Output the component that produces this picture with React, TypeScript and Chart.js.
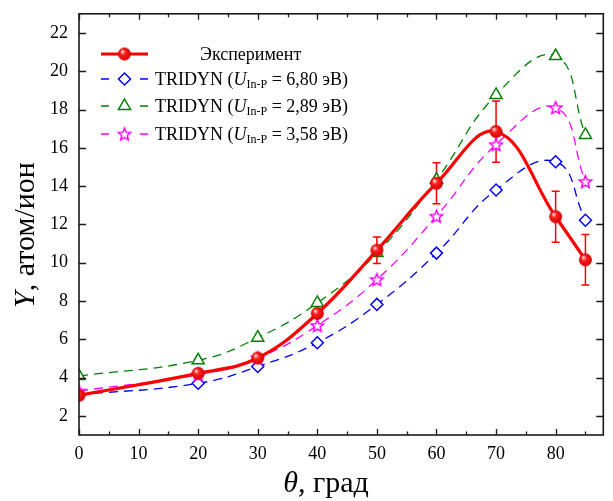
import React, { useEffect, useRef } from "react";
import { Chart, registerables } from "chart.js";

Chart.register(...registerables);

// ---- data ----
const angles = [0, 20, 30, 40, 50, 60, 70, 80, 85];
const experiment = [3.07, 4.22, 5.02, 7.35, 10.65, 14.15, 16.85, 12.4, 10.15];
const experimentErr = [0, 0, 0, 0, 0.69, 1.07, 1.6, 1.33, 1.32];
const tridyn680 = [3.1, 3.7, 4.58, 5.82, 7.82, 10.5, 13.8, 15.27, 12.22];
const tridyn289 = [4.08, 4.9, 6.08, 7.9, 10.5, 14.33, 18.76, 20.79, 16.67];
const tridyn358 = [3.3, 4.15, 5.03, 6.72, 9.12, 12.43, 16.17, 18.1, 14.24];

const xTickValues = [0, 10, 20, 30, 40, 50, 60, 70, 80];
const xMinorValues = [5, 15, 25, 35, 45, 55, 65, 75, 85];
const yTickValues = [2, 4, 6, 8, 10, 12, 14, 16, 18, 20, 22];

const legendLabels = ["Эксперимент", "TRIDYN (", "U", "In-P", " = 6,80 эВ)", " = 2,89 эВ)", " = 3,58 эВ)"];
const xTitle = ["θ", ", град"];
const yTitle = ["Y", ", атом/ион"];

const X_MIN = 0, X_MAX = 88;
const Y_MIN = 1, Y_MAX = 23;

const SERIF = "'Liberation Serif', 'Times New Roman', serif";
const RED = "#ff0000";
const BLUE = "#0000ff";
const GREEN = "#008000";
const MAGENTA = "#ff00ff";

function makeBall(r: number): HTMLCanvasElement {
  const c = document.createElement("canvas");
  const s = Math.ceil(r * 2 + 2);
  c.width = s; c.height = s;
  const g = c.getContext("2d")!;
  const cx = s / 2, cy = s / 2;
  const grad = g.createRadialGradient(cx - r * 0.35, cy - r * 0.4, r * 0.1, cx, cy, r);
  grad.addColorStop(0, "#ffd0d0");
  grad.addColorStop(0.35, "#ff2020");
  grad.addColorStop(1, "#d00000");
  g.fillStyle = grad;
  g.beginPath(); g.arc(cx, cy, r, 0, Math.PI * 2); g.fill();
  return c;
}

function starPath(g: CanvasRenderingContext2D, cx: number, cy: number, ro: number, ri: number) {
  g.beginPath();
  for (let i = 0; i < 10; i++) {
    const a = -Math.PI / 2 + (i * Math.PI) / 5;
    const rr = i % 2 === 0 ? ro : ri;
    const px = cx + Math.cos(a) * rr, py = cy + Math.sin(a) * rr;
    if (i === 0) g.moveTo(px, py); else g.lineTo(px, py);
  }
  g.closePath();
}

function makeStar(ro: number): HTMLCanvasElement {
  const c = document.createElement("canvas");
  const s = Math.ceil(ro * 2 + 4);
  c.width = s; c.height = s;
  const g = c.getContext("2d")!;
  starPath(g, s / 2, s / 2 + 0.6, ro, ro * 0.45);
  g.fillStyle = "#ffffff"; g.fill();
  g.strokeStyle = MAGENTA; g.lineWidth = 1.5; g.stroke();
  return c;
}

function pts(vals: number[]) {
  return angles.map((a, i) => ({ x: a, y: vals[i] }));
}

function drawRich(ctx: CanvasRenderingContext2D, x: number, y: number, parts: { t: string; f: string; dy?: number }[]) {
  let cx = x;
  for (const p of parts) {
    ctx.font = p.f;
    ctx.fillText(p.t, cx, y + (p.dy || 0));
    cx += ctx.measureText(p.t).width;
  }
}

export default function App() {
  const ref = useRef<HTMLCanvasElement | null>(null);

  useEffect(() => {
    const canvas = ref.current!;
    const ball = makeBall(6.5);
    const legendBall = makeBall(6.5);
    const star = makeStar(6.5);

    const decor = {
      id: "decor",
      beforeDatasetsDraw(chart: any) {
        const ctx = chart.ctx as CanvasRenderingContext2D;
        const xs = chart.scales.x, ys = chart.scales.y;
        ctx.save();
        ctx.strokeStyle = RED;
        ctx.lineWidth = 1.5;
        angles.forEach((a, i) => {
          const e = experimentErr[i];
          if (!e) return;
          const px = xs.getPixelForValue(a);
          const y1 = ys.getPixelForValue(experiment[i] + e);
          const y2 = ys.getPixelForValue(experiment[i] - e);
          ctx.beginPath();
          ctx.moveTo(px, y1); ctx.lineTo(px, y2);
          ctx.moveTo(px - 4, y1); ctx.lineTo(px + 4, y1);
          ctx.moveTo(px - 4, y2); ctx.lineTo(px + 4, y2);
          ctx.stroke();
        });
        ctx.restore();
      },
      afterDraw(chart: any) {
        const ctx = chart.ctx as CanvasRenderingContext2D;
        const { left, right, top, bottom } = chart.chartArea;
        const xs = chart.scales.x, ys = chart.scales.y;
        ctx.save();
        // frame
        ctx.strokeStyle = "#1a1a1a";
        ctx.lineWidth = 1.6;
        ctx.strokeRect(left, top, right - left, bottom - top);
        ctx.lineWidth = 1.3;
        ctx.beginPath();
        ys.ticks.forEach((t: any) => {
          const py = Math.round(ys.getPixelForValue(t.value)) + 0.5;
          ctx.moveTo(left, py); ctx.lineTo(left + 7, py);
          ctx.moveTo(right, py); ctx.lineTo(right - 7, py);
        });
        xs.ticks.forEach((t: any) => {
          const px = Math.round(xs.getPixelForValue(t.value)) + 0.5;
          ctx.moveTo(px, bottom); ctx.lineTo(px, bottom - 6);
          ctx.moveTo(px, top); ctx.lineTo(px, top + 6);
        });
        xMinorValues.forEach((mv) => {
          const mx = Math.round(xs.getPixelForValue(mv)) + 0.5;
          ctx.moveTo(mx, bottom); ctx.lineTo(mx, bottom - 3.5);
          ctx.moveTo(mx, top); ctx.lineTo(mx, top + 3.5);
        });
        ctx.stroke();

        // axis titles
        ctx.fillStyle = "#000";
        ctx.textBaseline = "alphabetic";
        ctx.textAlign = "left";
        const big = `30px ${SERIF}`;
        const bigI = `italic 30px ${SERIF}`;
        ctx.font = bigI;
        const w1 = ctx.measureText(xTitle[0]).width;
        ctx.font = big;
        const w2 = ctx.measureText(xTitle[1]).width;
        drawRich(ctx, 326 - (w1 + w2) / 2, 492, [
          { t: xTitle[0], f: bigI },
          { t: xTitle[1], f: big },
        ]);
        ctx.save();
        ctx.translate(34, 235);
        ctx.rotate(-Math.PI / 2);
        ctx.font = bigI;
        const v1 = ctx.measureText(yTitle[0]).width;
        ctx.font = big;
        const v2 = ctx.measureText(yTitle[1]).width;
        drawRich(ctx, -(v1 + v2) / 2, 0, [
          { t: yTitle[0], f: bigI },
          { t: yTitle[1], f: big },
        ]);
        ctx.restore();

        // legend
        const lx0 = 101, lx1 = 148, mx = 124.5;
        const rows = [54, 79, 106, 134];
        ctx.textBaseline = "middle";
        ctx.strokeStyle = RED; ctx.lineWidth = 3.2;
        ctx.beginPath(); ctx.moveTo(lx0, rows[0]); ctx.lineTo(lx1, rows[0]); ctx.stroke();
        ctx.drawImage(legendBall, mx - legendBall.width / 2, rows[0] - legendBall.height / 2);
        ctx.font = `18px ${SERIF}`;
        ctx.fillText(legendLabels[0], 200, rows[0] + 1);

        const sims = [
          { c: BLUE, end: legendLabels[4], m: "diamond" },
          { c: GREEN, end: legendLabels[5], m: "triangle" },
          { c: MAGENTA, end: legendLabels[6], m: "star" },
        ];
        sims.forEach((s, k) => {
          const y = rows[k + 1];
          ctx.strokeStyle = s.c; ctx.lineWidth = 1.4;
          ctx.beginPath();
          ctx.moveTo(lx0, y); ctx.lineTo(lx0 + 8, y);
          ctx.moveTo(lx1 - 8, y); ctx.lineTo(lx1, y);
          ctx.stroke();
          ctx.lineWidth = 1.5;
          ctx.fillStyle = "#fff";
          if (s.m === "diamond") {
            ctx.beginPath();
            ctx.moveTo(mx - 6, y); ctx.lineTo(mx, y - 6); ctx.lineTo(mx + 6, y); ctx.lineTo(mx, y + 6); ctx.closePath();
            ctx.fill(); ctx.stroke();
          } else if (s.m === "triangle") {
            const r = 7;
            ctx.beginPath();
            ctx.moveTo(mx, y - r);
            ctx.lineTo(mx + r * 0.866, y + r / 2);
            ctx.lineTo(mx - r * 0.866, y + r / 2);
            ctx.closePath();
            ctx.fill(); ctx.stroke();
          } else {
            ctx.drawImage(star, mx - star.width / 2, y - star.height / 2);
          }
          ctx.fillStyle = "#000";
          drawRich(ctx, 155, y + 1, [
            { t: legendLabels[1], f: `18px ${SERIF}` },
            { t: legendLabels[2], f: `italic 18px ${SERIF}` },
            { t: legendLabels[3], f: `12px ${SERIF}`, dy: 5 },
            { t: s.end, f: `18px ${SERIF}` },
          ]);
        });
        ctx.restore();
      },
    };

    const dashedTension = 0.45;

    const chart = new Chart(canvas, {
      type: "line",
      data: {
        datasets: [
          {
            label: "Эксперимент",
            data: pts(experiment),
            borderColor: RED,
            backgroundColor: RED,
            borderWidth: 3.2,
            tension: 0.4,
            pointStyle: ball as any,
            pointRadius: 6.5,
            order: 0,
          },
          {
            label: "TRIDYN 6,80",
            data: pts(tridyn680),
            borderColor: BLUE,
            borderWidth: 1.3,
            borderDash: [9, 6],
            tension: dashedTension,
            pointStyle: "rectRot",
            pointRadius: 6,
            pointBorderWidth: 1.5,
            pointBorderColor: BLUE,
            pointBackgroundColor: "#ffffff",
            order: 3,
          },
          {
            label: "TRIDYN 2,89",
            data: pts(tridyn289),
            borderColor: GREEN,
            borderWidth: 1.3,
            borderDash: [9, 6],
            tension: dashedTension,
            pointStyle: "triangle",
            pointRadius: 7,
            pointBorderWidth: 1.5,
            pointBorderColor: GREEN,
            pointBackgroundColor: "#ffffff",
            order: 1,
          },
          {
            label: "TRIDYN 3,58",
            data: pts(tridyn358),
            borderColor: MAGENTA,
            borderWidth: 1.3,
            borderDash: [9, 6],
            tension: dashedTension,
            pointStyle: star as any,
            pointRadius: 6.5,
            order: 2,
          },
        ],
      },
      options: {
        animation: false,
        responsive: false,
        devicePixelRatio: 1,
        layout: { padding: { top: 12, right: 9, left: 0, bottom: 0 } },
        plugins: { legend: { display: false }, tooltip: { enabled: false }, title: { display: false } },
        scales: {
          x: {
            type: "linear",
            min: X_MIN,
            max: X_MAX,
            grid: { display: false },
            border: { display: false },
            afterBuildTicks: (s: any) => { s.ticks = xTickValues.map((v) => ({ value: v })); },
            ticks: {
              maxRotation: 0,
              autoSkip: false,
              padding: 0,
              color: "#000",
              font: { family: SERIF, size: 18 },
            },
            afterFit: (s: any) => { s.height = 66; },
          },
          y: {
            type: "linear",
            min: Y_MIN,
            max: Y_MAX,
            grid: { display: false },
            border: { display: false },
            afterBuildTicks: (s: any) => { s.ticks = yTickValues.map((v) => ({ value: v })); },
            ticks: {
              autoSkip: false,
              padding: 3,
              color: "#000",
              font: { family: SERIF, size: 18 },
            },
            afterFit: (s: any) => { s.width = 79; },
          },
        },
      },
      plugins: [decor],
    } as any);

    return () => chart.destroy();
  }, []);

  return (
    <div style={{ position: "absolute", left: 0, top: 0, width: 613, height: 501, background: "#fff" }}>
      <canvas ref={ref} width={613} height={501} style={{ display: "block" }} />
    </div>
  );
}
